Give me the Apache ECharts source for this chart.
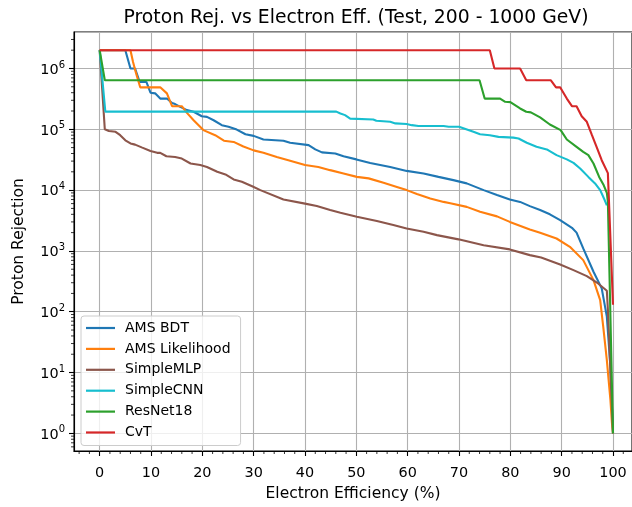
<!DOCTYPE html>
<html>
<head>
<meta charset="utf-8">
<script src="https://cdn.jsdelivr.net/npm/echarts@6/dist/echarts.min.js"></script>
<style>
  html, body { margin: 0; padding: 0; background: #fff; }
  #chart { width: 632px; height: 507px; }
</style>
</head>
<body>
<div id="chart"></div>
<script>
// Electron efficiency (%) vs proton rejection, one [eff, rejection] list per classifier
const amsBdt = [[0,2e6],[5.0,2e6],[6.0,1e6],[6.9,1e6],[7.8,6e5],[9.1,6e5],[9.9,4e5],[10.8,3.9e5],[11.8,3.2e5],[13.1,3.2e5],
  [14.1,2.7e5],[14.7,2.6e5],[15.7,2.34e5],[17.0,2.07e5],[18.3,1.94e5],[19.9,1.64e5],[20.9,1.6e5],[22.2,1.41e5],[23.8,1.17e5],[25.1,1.1e5],
  [26.7,9.9e4],[28.4,8.3e4],[30.0,7.8e4],[31.9,6.8e4],[35.8,6.5e4],[37.1,6e4],[40.7,5.5e4],[42.0,4.67e4],[43.3,4.17e4],[45.9,4e4],
  [47.5,3.6e4],[50.0,3.2e4],[52.7,2.8e4],[56.6,2.4e4],[59.8,2.07e4],[63.1,1.88e4],[66.0,1.65e4],[68.9,1.46e4],[71.5,1.29e4],[74.8,1e4],
  [77.4,8.3e3],[79.9,7e3],[81.9,6.4e3],[83.8,5.45e3],[85.8,4.7e3],[87.7,4e3],[89.7,3.2e3],[92.0,2.4e3],[92.9,2.0e3],[94.2,1.1e3],
  [96.2,454],[97.8,242],[98.8,83],[99.5,12.4],[100,1]];
const amsLikelihood = [[0,2e6],[6.0,2e6],[6.5,1.28e6],[7.1,8.3e5],[7.9,4.9e5],[11.8,4.9e5],[13.1,3.9e5],[14.1,2.4e5],[16.0,2.4e5],[17.0,1.86e5],
  [18.3,1.41e5],[20.2,9.7e4],[22.5,8e4],[24.2,6.5e4],[26.1,6.2e4],[28.0,5.2e4],[30.0,4.5e4],[31.9,4.1e4],[34.5,3.5e4],[37.1,3.03e4],
  [40.0,2.58e4],[42.6,2.4e4],[44.9,2.13e4],[47.5,1.88e4],[50.1,1.65e4],[52.4,1.56e4],[55.3,1.32e4],[57.9,1.13e4],[59.8,1e4],[61.8,8.6e3],
  [64.4,7.3e3],[67.0,6.4e3],[68.3,6.1e3],[71.5,5.3e3],[74.1,4.4e3],[77.4,3.7e3],[79.9,3e3],[83.8,2.26e3],[85.8,1.99e3],[89.0,1.6e3],
  [91.6,1.17e3],[94.2,706],[96.2,331],[97.5,155],[98.1,56.5],[98.8,16],[99.5,3.5],[99.8,1.46],[100,1]];
const simpleMlp = [[0,2e6],[1.0,1e5],[1.8,9.4e4],[3.1,9.1e4],[4.0,8e4],[5.0,6.6e4],[6.0,5.85e4],[6.9,5.6e4],[8.3,5e4],[9.9,4.4e4],
  [11.2,4.1e4],[11.8,4.1e4],[13.0,3.6e4],[14.7,3.5e4],[16.0,3.3e4],[17.7,2.74e4],[19.6,2.58e4],[20.9,2.4e4],[22.9,2e4],[24.5,1.81e4],
  [26.1,1.5e4],[27.7,1.37e4],[29.7,1.16e4],[31.3,1e4],[35.8,7e3],[40.0,6e3],[42.3,5.46e3],[44.9,4.7e3],[46.9,4.24e3],[50.1,3.64e3],
  [54.0,3.1e3],[57.2,2.66e3],[59.8,2.34e3],[63.1,2.06e3],[65.7,1.82e3],[69.9,1.55e3],[74.8,1.24e3],[79.9,1.06e3],[83.8,853],[86.0,780],
  [89.7,600],[92.3,484],[94.9,385],[97.1,292],[98.8,221],[99.0,110],[100,1]];
const simpleCnn = [[0,2e6],[1.1,1.95e5],[46.1,1.95e5],[46.9,1.82e5],[47.8,1.71e5],[48.8,1.5e5],[53.3,1.45e5],[53.9,1.38e5],[56.6,1.33e5],[57.6,1.25e5],
  [59.8,1.22e5],[60.8,1.17e5],[62.1,1.13e5],[67.0,1.13e5],[68.0,1.1e5],[70.0,1.1e5],[72.8,9.1e4],[74.1,8.3e4],[76.0,8e4],[77.7,7.5e4],
  [80.6,7.3e4],[81.6,7.06e4],[83.2,6e4],[85.1,5.15e4],[87.1,4.67e4],[89.0,3.76e4],[91.0,3.2e4],[92.3,2.8e4],[93.6,2.27e4],[95.2,1.65e4],
  [96.5,1.29e4],[97.5,1e4],[98.4,6.8e3],[98.8,5.6e3]];
const resNet18 = [[0,2e6],[1.0,6.4e5],[74.0,6.4e5],[75.0,3.2e5],[78.0,3.2e5],[79.0,2.83e5],[80.0,2.8e5],[81.9,2.2e5],[83.1,1.94e5],[84.0,1.9e5],
  [85.8,1.57e5],[87.7,1.2e5],[89.8,9.7e4],[91.0,6.8e4],[92.9,5.15e4],[94.2,4.26e4],[95.2,3.76e4],[96.2,2.74e4],[97.3,1.65e4],[98.2,1.2e4],
  [98.8,9e3],[99.0,6.5e3],[100,1]];
const cvt = [[0,2e6],[76.0,2e6],[76.9,1e6],[81.9,1e6],[83.1,6.4e5],[87.9,6.4e5],[88.9,4.9e5],[89.7,4.9e5],[91.0,3.2e5],[92.0,2.4e5],
  [92.9,2.4e5],[93.9,1.64e5],[94.9,1.33e5],[95.9,8e4],[96.8,5.15e4],[97.8,3.1e4],[99.0,1.9e4],[100,130]];

const seriesNames = ['AMS BDT', 'AMS Likelihood', 'SimpleMLP', 'SimpleCNN', 'ResNet18', 'CvT'];
const seriesColors = ['#1f77b4', '#ff7f0e', '#8c564b', '#17becf', '#2ca02c', '#d62728'];
const seriesData = [amsBdt, amsLikelihood, simpleMlp, simpleCnn, resNet18, cvt];

// visible x window (the axes box runs on past the right edge of the page)
const xRange = [-5, 103.7];
const yRange = [Math.pow(10, -0.29), Math.pow(10, 6.6)];
const xMajorStep = 10;

const FONT = 'DejaVu Sans';

// Minor tick positions: every 2 % on x, 2..9 x 10^n on the log y axis
const minorTicks = [];
for (let v = -4; v < xRange[1]; v += 2) {
  if (v % xMajorStep !== 0) minorTicks.push([v, yRange[0], 1]);
}
for (let n = -1; n <= 6; n++) {
  for (let k = 2; k <= 9; k++) {
    const v = k * Math.pow(10, n);
    if (v > yRange[0] && v < yRange[1]) minorTicks.push([xRange[0], v, 0]);
  }
}

const lineSeries = seriesNames.map((name, i) => ({
  name: name,
  type: 'line',
  data: seriesData[i],
  showSymbol: false,
  symbol: 'none',
  color: seriesColors[i],
  lineStyle: { width: 2.1, color: seriesColors[i] },
  z: 3 + i,
  animation: false
}));

const chart = echarts.init(document.getElementById('chart'), null, { renderer: 'canvas' });
chart.setOption({
  backgroundColor: '#ffffff',
  animation: false,
  textStyle: { fontFamily: FONT },
  title: {
    text: 'Proton Rej. vs Electron Eff. (Test, 200 - 1000 GeV)',
    left: 356,
    textAlign: 'center',
    top: 9,
    padding: 0,
    textStyle: { fontFamily: FONT, fontSize: 18.8, fontWeight: 'normal', color: '#000' }
  },
  grid: { left: 74, top: 32, right: 0, height: 419, show: true, borderColor: '#000', borderWidth: 1.1, backgroundColor: 'transparent' },
  legend: {
    data: seriesNames,
    orient: 'vertical',
    left: 81,
    top: 316,
    padding: [5, 10, 6, 5],
    icon: 'rect',
    itemWidth: 29,
    itemHeight: 2.2,
    itemGap: 6.9,
    backgroundColor: 'rgba(255,255,255,0.8)',
    borderColor: '#cccccc',
    borderWidth: 1,
    borderRadius: 3,
    textStyle: { fontFamily: FONT, fontSize: 14, lineHeight: 14, color: '#000', padding: [0, 0, 0, 5] }
  },
  xAxis: {
    type: 'value',
    min: xRange[0],
    max: xRange[1],
    splitNumber: 11,
    name: 'Electron Efficiency (%)',
    nameLocation: 'middle',
    nameGap: 35,
    nameTextStyle: { fontFamily: FONT, fontSize: 15.5, color: '#000' },
    axisLine: { show: true, onZero: false, lineStyle: { color: '#000', width: 1.1 } },
    axisTick: { show: true, length: 5, lineStyle: { color: '#000', width: 1.1 } },
    axisLabel: {
      fontFamily: FONT, fontSize: 14.4, color: '#000', margin: 15,
      showMinLabel: false, showMaxLabel: false,
      formatter: v => (Math.abs(v % xMajorStep) < 1e-9 ? String(v) : '')
    },
    splitLine: { show: true, lineStyle: { color: '#b0b0b0', width: 1.1 } }
  },
  yAxis: {
    type: 'log',
    logBase: 10,
    min: yRange[0],
    max: yRange[1],
    name: 'Proton Rejection',
    nameLocation: 'middle',
    nameGap: 47,
    nameTextStyle: { fontFamily: FONT, fontSize: 15.5, color: '#000' },
    axisLine: { show: true, onZero: false, lineStyle: { color: '#000', width: 1.1 } },
    axisTick: { show: true, length: 5, lineStyle: { color: '#000', width: 1.1 } },
    axisLabel: {
      margin: 9,
      showMinLabel: false, showMaxLabel: false,
      formatter: v => {
        const p = Math.log10(v);
        const n = Math.round(p);
        if (Math.abs(p - n) > 1e-6) return '';
        return '{base|10}{sup|' + n + '}';
      },
      rich: {
        base: { fontFamily: FONT, fontSize: 14.4, color: '#000', verticalAlign: 'bottom' },
        sup: { fontFamily: FONT, fontSize: 10, color: '#000', verticalAlign: 'bottom', padding: [0, 0, 7, 0] }
      }
    },
    splitLine: { show: true, lineStyle: { color: '#b0b0b0', width: 1.1 } }
  },
  series: lineSeries.concat([{
    type: 'custom',
    silent: true,
    clip: false,
    z: 10,
    data: minorTicks,
    encode: { x: 0, y: 1 },
    renderItem: (params, api) => {
      const kind = api.value(2);
      const p = api.coord([api.value(0), api.value(1)]);
      const shape = kind === 0
        ? { x1: p[0] - 3, y1: p[1], x2: p[0], y2: p[1] }
        : { x1: p[0], y1: p[1], x2: p[0], y2: p[1] + 3 };
      return { type: 'line', shape: shape, style: { stroke: '#000', lineWidth: 0.8 } };
    }
  }])
});
</script>
</body>
</html>
